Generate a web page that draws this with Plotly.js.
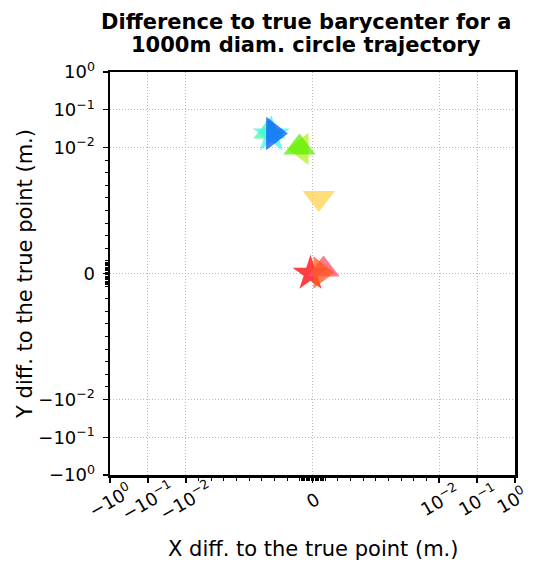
<!DOCTYPE html>
<html>
<head>
<meta charset="utf-8">
<script src="https://cdn.plot.ly/plotly-3.0.1.min.js"></script>
<style>html,body{margin:0;padding:0;background:#fff;}#chart{width:533px;height:562px;}</style>
</head>
<body>
<div id="chart"></div>
<script>
// ---- data (metres) ----
const xDiff = [-0.00016, 0.00087, 0.00063, 0.00050, -0.00087, -0.00103, -0.00340, -0.00325, -0.00309];
const yDiff = [0.0, 0.00032, 0.00008, 0.0060, 0.0099, 0.0100, 0.0265, 0.0221, 0.0235];
const tickValues = [-1, -0.1, -0.01, 0, 0.01, 0.1, 1];
const tickLabels = ['\u221210<sup>0</sup>', '\u221210<sup>\u22121</sup>', '\u221210<sup>\u22122</sup>', '0',
                    '10<sup>\u22122</sup>', '10<sup>\u22121</sup>', '10<sup>0</sup>'];
const titleLines = ['Difference to true barycenter for a', '1000m diam. circle trajectory'];
const xLabel = 'X diff. to the true point (m.)';
const yLabel = 'Y diff. to the true point (m.)';

// ---- styles ----
const symbols = ['star', 'triangle-up', 'triangle-right', 'triangle-down', 'triangle-left', 'triangle-up', 'triangle-up', 'star', 'triangle-right'];
const colors = ['#ff0000', '#ff4d6a', '#ff5a1e', '#ffd24d', '#b4f01e', '#5cf000', '#3cffa0', '#3cf5e6', '#0a5aff'];
const sizes = [27, 28, 28, 28, 28, 28, 28, 28, 29];

// symmetric log transform (linthresh 0.01, linscale 3)
const LT = 0.01, LS = 3 / 0.9;
function sl(v) {
  const a = Math.abs(v);
  return a <= LT ? v / LT * LS : Math.sign(v) * (LS + Math.log10(a / LT));
}
const R = sl(1);

const minorVals = [];
for (let k = -9; k <= 9; k++) if (k !== 0) minorVals.push(sl(k * 0.001));
for (let k = -10; k <= 10; k++) minorVals.push(sl(k * 0.0001));

const traces = xDiff.map((x, i) => ({
  type: 'scatter', mode: 'markers',
  x: [sl(x)], y: [sl(yDiff[i])],
  marker: { symbol: symbols[i], color: colors[i], size: sizes[i], opacity: 0.75, line: { width: 0 } },
  showlegend: false, hoverinfo: 'skip'
}));

const tickFont = { family: 'DejaVu Sans', size: 18, color: '#000' };
const axisBase = {
  tickmode: 'array', tickvals: tickValues.map(sl), ticktext: tickLabels,
  ticks: 'outside', ticklen: 5, tickwidth: 1.2, tickcolor: '#000',
  showline: true, mirror: true, linewidth: 2.5, linecolor: '#000',
  showgrid: true, gridcolor: '#b8b8b8', griddash: '1px,2px', gridwidth: 1,
  zeroline: false, range: [-R, R],
  tickfont: tickFont,
  minor: { tickmode: 'array', tickvals: minorVals, ticks: 'outside', ticklen: 3, tickwidth: 1, tickcolor: '#000', showgrid: false }
};

const titleFont = { family: 'DejaVu Sans', size: 21, color: '#000' };
const labelFont = { family: 'DejaVu Sans', size: 21, color: '#000' };

const annotations = [];
titleLines.forEach((t, i) => annotations.push({
  text: '<b>' + t + '</b>', font: titleFont,
  xref: 'paper', yref: 'paper', x: 0.485, y: 1, xanchor: 'center', yanchor: 'middle',
  yshift: [50, 27][i], showarrow: false
}));
// rotated x tick labels centred under their ticks (matplotlib style)
tickValues.forEach((v, i) => annotations.push({
  text: tickLabels[i], font: tickFont, textangle: -30,
  xref: 'x', yref: 'paper', x: sl(v), y: 0, xanchor: 'center', yanchor: 'middle',
  yshift: -25, xshift: (i === tickValues.length - 1) ? -4 : 0, showarrow: false
}));
annotations.push({
  text: xLabel, font: labelFont,
  xref: 'paper', yref: 'paper', x: 0.5, y: 0, xanchor: 'center', yanchor: 'middle',
  yshift: -74, showarrow: false
});

const layout = {
  width: 533, height: 562,
  margin: { l: 110, r: 18, t: 72, b: 87 },
  paper_bgcolor: '#fff', plot_bgcolor: '#fff',
  annotations: annotations,
  xaxis: Object.assign({}, axisBase, { showticklabels: false }),
  yaxis: Object.assign({}, axisBase, {
    ticklabelstandoff: 4,
    title: { text: yLabel, font: labelFont, standoff: 0 }
  })
};

Plotly.newPlot('chart', traces, layout, { staticPlot: true, displayModeBar: false });
</script>
</body>
</html>
